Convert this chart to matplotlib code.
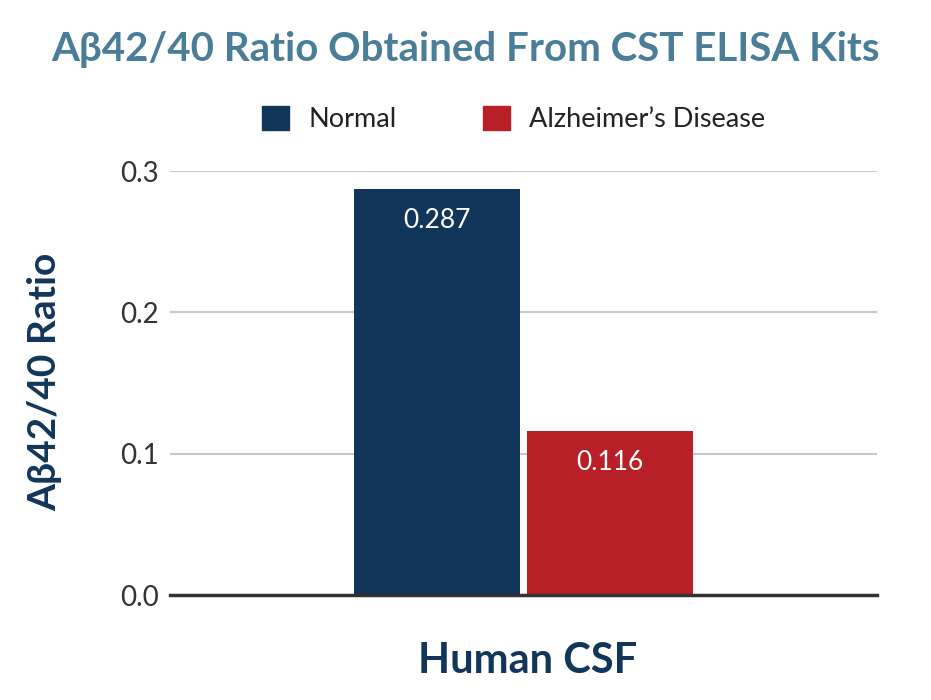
import matplotlib
matplotlib.use("Agg")
import matplotlib.pyplot as plt
from matplotlib.patches import Patch

plt.rcParams["font.family"] = ["Lato", "DejaVu Sans"]

# data
groups = ["Normal", "Alzheimer\u2019s Disease"]
values = [0.287, 0.116]
colors = ["#12365a", "#b91f27"]
yticks = [0.0, 0.1, 0.2, 0.3]
category = "Human CSF"

fig = plt.figure(figsize=(9.31, 7.0), dpi=100)
ax = fig.add_axes([0.1826, 0.15, 0.7594, 0.6057])

offsets = [-0.245, 0.245]
bars = ax.bar(offsets, values, width=0.47, color=colors, zorder=3)
for b, v in zip(bars, values):
    ax.text(b.get_x() + b.get_width() / 2, v - 0.0135, f"{v:.3f}",
            ha="center", va="top", color="white", fontsize=19, zorder=4)

ax.set_xlim(-1, 1)
ax.set_ylim(0, 0.3)
ax.set_yticks(yticks)
ax.set_yticklabels([f"{t:.1f}" for t in yticks], fontsize=20, color="#333333")
ax.set_xticks([])
ax.grid(axis="y", color="#c8c8c8", linewidth=1.5, zorder=0)
for s in ["top", "right", "left"]:
    ax.spines[s].set_visible(False)
ax.spines["bottom"].set_color("#333333")
ax.spines["bottom"].set_linewidth(2.5)
ax.spines["bottom"].set_zorder(5)
ax.tick_params(axis="y", length=0, pad=8)

ax.set_ylabel("A\u03b242/40 Ratio", fontsize=28, fontweight="bold",
              color="#12365a")
ax.yaxis.set_label_coords(-0.153, 0.502)
ax.set_xlabel(category, fontsize=30, fontweight="bold", color="#12365a")
ax.xaxis.set_label_coords(0.506, -0.111)

fig.text(0.5, 0.93, "A\u03b242/40 Ratio Obtained From CST ELISA Kits",
         ha="center", va="center", fontsize=29, fontweight="bold",
         color="#4a7d98")

handles = [Patch(facecolor=c, edgecolor=c) for c in colors]
fig.legend(handles, groups, loc="center", bbox_to_anchor=(0.552, 0.83),
           ncol=2, frameon=False, fontsize=19.5, handlelength=1.0,
           handleheight=1.0, columnspacing=3.2, handletextpad=0.7,
           labelcolor="#222222")

fig.savefig("out.png", dpi=100)
